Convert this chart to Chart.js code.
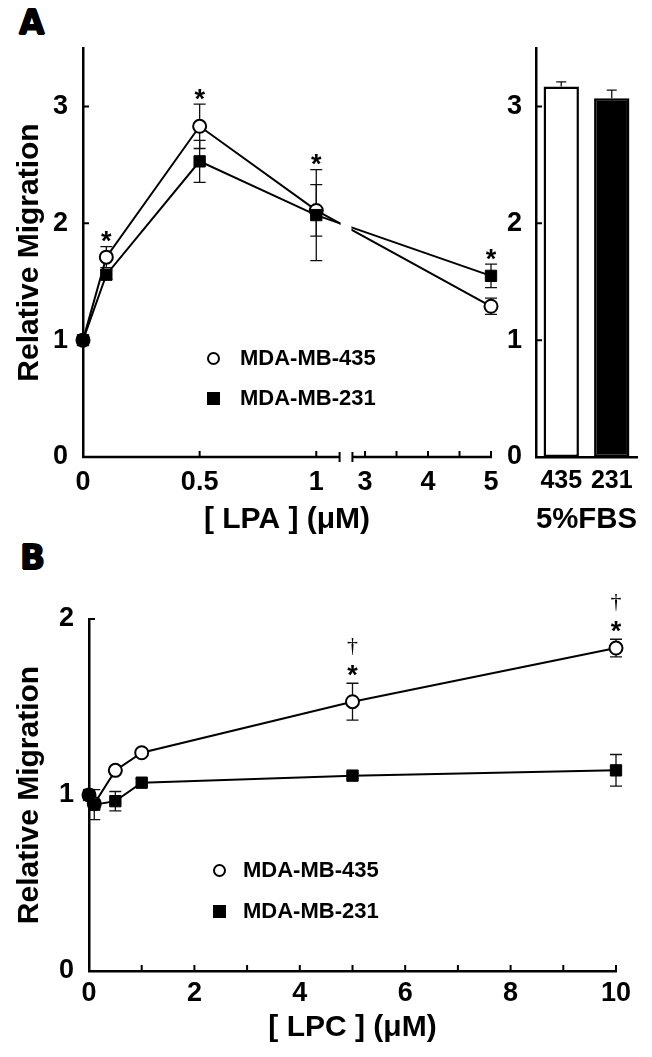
<!DOCTYPE html>
<html>
<head>
<meta charset="utf-8">
<script src="https://cdn.jsdelivr.net/npm/chart.js@4"></script>
<style>
  body { margin: 0; background: #fff; width: 652px; height: 1057px; position: relative; overflow: hidden; font-family: "Liberation Sans", Arial, sans-serif; }
  canvas { position: absolute; }
  .panel { position: absolute; font-family: "DejaVu Sans", sans-serif; font-weight: bold; font-size: 33px; line-height: 1; text-shadow: 0.7px 0 #000, -0.7px 0 #000, 0 0.7px #000, 0 -0.7px #000; }
  .leg { position: absolute; display: flex; align-items: center; transform: translateY(-50%); font-weight: bold; font-size: 22px; line-height: 1; white-space: nowrap; }
  .leg .sym { width: 13px; height: 13px; box-sizing: border-box; }
  .circ { border: 2px solid #000; border-radius: 50%; background: #fff; }
  .sq { background: #000; }
</style>
</head>
<body>
<div class="panel" style="left:19px; top:6px;">A</div>
<div class="panel" style="left:20px; top:541px;">B</div>

<canvas id="lpa" width="511" height="540" style="left:0; top:0;"></canvas>
<canvas id="fbs" width="162" height="540" style="left:490px; top:0;"></canvas>
<canvas id="lpc" width="652" height="517" style="left:0; top:540px;"></canvas>

<div class="leg" style="left:207px; top:358px;"><span class="sym circ" style="margin-right:20px"></span>MDA-MB-435</div>
<div class="leg" style="left:207px; top:398px;"><span class="sym sq" style="margin-right:20px"></span>MDA-MB-231</div>
<div class="leg" style="left:213px; top:870px;"><span class="sym circ" style="margin-right:17px"></span>MDA-MB-435</div>
<div class="leg" style="left:213px; top:911px;"><span class="sym sq" style="margin-right:17px"></span>MDA-MB-231</div>

<script>
// panel A: LPA dose response (uM)
const lpaConc = [0, 0.1, 0.5, 1, 5];
const lpa435 = [1.0, 1.71, 2.83, 2.11, 1.29];
const lpa435Err = [0, 0.09, 0.19, 0.22, 0.07];
const lpa231 = [1.0, 1.56, 2.53, 2.07, 1.55];
const lpa231Err = [0, 0.04, 0.18, 0.39, 0.10];
const lpaStarIdx = [1, 2, 3, 4];
const lpaTickVals = [0, 0.5, 1, 3, 4, 5];
const lpaTickLabels = ['0', '0.5', '1', '3', '4', '5'];
const lpaMinorTicks = [3.5, 4.5];

// panel A right: 5% FBS
const fbsLabels = ['435', '231'];
const fbsValues = [3.17, 3.07];
const fbsErr = [0.04, 0.07];

// panel B: LPC dose response (uM)
const lpcConc = [0, 0.1, 0.5, 1, 5, 10];
const lpc435 = [1.0, 0.95, 1.14, 1.24, 1.53, 1.835];
const lpc435Err = [0, 0.02, 0.02, 0.02, 0.105, 0.05];
const lpc231 = [1.0, 0.945, 0.965, 1.07, 1.11, 1.14];
const lpc231Err = [0.02, 0.085, 0.055, 0.02, 0.015, 0.09];
const lpcStarIdx = [4, 5];

// broken x axis for panel A: 0..1.1 linear, then 2.8..5 compressed
const BREAK_LO = 1.1, BREAK_HI = 2.8, SEG2_START = 1.155, SEG2_SCALE = 0.27;
const pos = (x) => (x <= BREAK_LO ? x : SEG2_START + (x - BREAK_HI) * SEG2_SCALE);

const FONT = '"Liberation Sans", Arial, sans-serif';
Chart.defaults.font.family = FONT;
Chart.defaults.color = '#000';

const errorBars = {
  id: 'errorBars',
  beforeDatasetsDraw(chart, args, opts) {
    const { ctx, scales: { x, y } } = chart;
    ctx.save();
    ctx.strokeStyle = '#111';
    ctx.lineWidth = 1.3;
    chart.data.datasets.forEach((ds) => {
      if (!ds.errors) return;
      ds.data.forEach((pt, i) => {
        const e = ds.errors[i];
        if (!e) return;
        const xv = typeof pt === 'object' ? pt.x : i;
        const yv = typeof pt === 'object' ? pt.y : pt;
        const px = x.getPixelForValue(xv);
        const yTop = y.getPixelForValue(yv + e);
        const yBot = ds.errorUpOnly ? y.getPixelForValue(yv) : y.getPixelForValue(yv - e);
        const cap = opts.cap || 6;
        ctx.beginPath();
        ctx.moveTo(px, yTop); ctx.lineTo(px, yBot);
        ctx.moveTo(px - cap, yTop); ctx.lineTo(px + cap, yTop);
        if (!ds.errorUpOnly) { ctx.moveTo(px - cap, yBot); ctx.lineTo(px + cap, yBot); }
        ctx.stroke();
      });
    });
    ctx.restore();
  },
};

const sigMarks = {
  id: 'sigMarks',
  afterDatasetsDraw(chart, args, opts) {
    const { ctx, scales: { x, y } } = chart;
    ctx.save();
    ctx.fillStyle = '#000';
    ctx.textAlign = 'center';
    ctx.textBaseline = 'alphabetic';
    opts.idx.forEach((i) => {
      let top = -Infinity;
      chart.data.datasets.forEach((ds) => {
        top = Math.max(top, ds.data[i].y + (ds.errors ? ds.errors[i] : 0));
      });
      const px = x.getPixelForValue(chart.data.datasets[0].data[i].x);
      const py = y.getPixelForValue(top);
      ctx.font = 'bold 27px ' + FONT;
      ctx.fillText('*', px, py - opts.starGap + 0.58 * 27);
      if (opts.dagger) {
        ctx.font = '22px "Liberation Serif", serif';
        ctx.fillText('\u2020', px, py - opts.daggerGap + 0.27 * 22);
      }
    });
    ctx.restore();
  },
};

const innerTicks = {
  id: 'innerTicks',
  afterDraw(chart, args, opts) {
    const { ctx, chartArea: a, scales } = chart;
    const len = opts.len || 6;
    ctx.save();
    ctx.strokeStyle = '#000';
    ctx.lineWidth = 2;
    ctx.beginPath();
    if (scales.x.type !== 'category') {
      const xv = scales.x.ticks.map((t) => t.value).concat(opts.extraX || []);
      xv.forEach((v) => {
        const px = scales.x.getPixelForValue(v);
        if (Math.abs(px - a.left) < 2) return;
        ctx.moveTo(px, a.bottom); ctx.lineTo(px, a.bottom - len);
      });
    }
    scales.y.ticks.forEach((t) => {
      const py = scales.y.getPixelForValue(t.value);
      if (Math.abs(py - a.bottom) < 2) return;
      ctx.moveTo(a.left, py); ctx.lineTo(a.left + len, py);
    });
    ctx.stroke();
    ctx.restore();
  },
};

const axisBreak = {
  id: 'axisBreak',
  afterDatasetsDraw(chart) {
    const { ctx, chartArea: a, scales: { x } } = chart;
    const x1 = x.getPixelForValue(pos(BREAK_LO));
    const x2 = x.getPixelForValue(pos(BREAK_HI));
    ctx.save();
    ctx.fillStyle = '#fff';
    ctx.fillRect(x1 + 1, a.top, x2 - x1 - 2, a.bottom - a.top + 8);
    ctx.strokeStyle = '#000';
    ctx.lineWidth = 2.5;
    ctx.beginPath();
    ctx.moveTo(a.left - 1, a.bottom); ctx.lineTo(x1, a.bottom);
    ctx.moveTo(x2, a.bottom); ctx.lineTo(a.right + 1, a.bottom);
    ctx.stroke();
    ctx.lineWidth = 2;
    ctx.beginPath();
    ctx.moveTo(x1, a.bottom - 5); ctx.lineTo(x1, a.bottom + 5);
    ctx.moveTo(x2, a.bottom - 5); ctx.lineTo(x2, a.bottom + 5);
    ctx.stroke();
    ctx.restore();
  },
};

const tickFont = { size: 27, weight: 'bold' };
const titleFont = { size: 30, weight: 'bold' };

function lineSet(label, xs, ys, errs, style, order) {
  return {
    label,
    data: xs.map((c, i) => ({ x: c, y: ys[i] })),
    errors: errs,
    borderColor: '#000',
    borderWidth: 2,
    pointStyle: style,
    pointRadius: style === 'circle' ? 6.5 : 8,
    pointBorderWidth: style === 'circle' ? 2 : 1,
    pointBackgroundColor: style === 'circle' ? '#fff' : '#000',
    pointBorderColor: '#000',
    tension: 0,
    clip: false,
    order,
  };
}

new Chart(document.getElementById('lpa'), {
  type: 'line',
  data: {
    datasets: [
      lineSet('MDA-MB-435', lpaConc.map(pos), lpa435, lpa435Err, 'circle', 1),
      lineSet('MDA-MB-231', lpaConc.map(pos), lpa231, lpa231Err, 'rect', 0),
    ],
  },
  options: {
    responsive: false,
    animation: false,
    devicePixelRatio: 1,
    layout: { padding: { top: 48, right: 20, left: 0, bottom: 0 } },
    plugins: {
      legend: { display: false },
      tooltip: { enabled: false },
      errorBars: { cap: 6 },
      sigMarks: { idx: lpaStarIdx, starGap: 12 },
      innerTicks: { extraX: lpaMinorTicks.map(pos) },
    },
    scales: {
      x: {
        type: 'linear',
        min: 0,
        max: pos(5),
        afterBuildTicks: (s) => { s.ticks = lpaTickVals.map((v) => ({ value: pos(v) })); },
        afterFit: (s) => { s.height = 83; },
        grid: { display: false, drawTicks: false },
        border: { display: false },
        ticks: { autoSkip: false, maxRotation: 0, padding: 9, font: tickFont, callback: (v, i) => lpaTickLabels[i] },
        title: { display: true, text: '[ LPA ] (\u03bcM)', font: titleFont, padding: { top: 0, bottom: 2 } },
      },
      y: {
        min: 0,
        max: 3.5,
        afterBuildTicks: (s) => { s.ticks = s.ticks.filter((t) => Number.isInteger(t.value)); },
        afterFit: (s) => { s.width = 83; },
        grid: { display: false, drawTicks: false },
        border: { display: true, color: '#000', width: 2.5 },
        ticks: { stepSize: 1, padding: 15, font: tickFont },
        title: { display: true, text: 'Relative Migration', font: titleFont, padding: { top: 12, bottom: 0 } },
      },
    },
  },
  plugins: [errorBars, axisBreak, sigMarks, innerTicks],
});

new Chart(document.getElementById('fbs'), {
  type: 'bar',
  data: {
    labels: fbsLabels,
    datasets: [{
      data: fbsValues,
      errors: fbsErr,
      errorUpOnly: true,
      backgroundColor: ['#fff', '#000'],
      borderColor: '#000',
      borderWidth: 2.5,
      borderSkipped: false,
      barPercentage: 0.7,
      categoryPercentage: 1,
    }],
  },
  options: {
    responsive: false,
    animation: false,
    devicePixelRatio: 1,
    layout: { padding: { top: 48, right: 15, left: 0, bottom: 0 } },
    plugins: {
      legend: { display: false },
      tooltip: { enabled: false },
      errorBars: { cap: 5 },
    },
    scales: {
      x: {
        afterFit: (s) => { s.height = 83; },
        grid: { display: false, drawTicks: false },
        border: { display: true, color: '#000', width: 2.5 },
        ticks: { autoSkip: false, minRotation: 0, maxRotation: 0, padding: 9, font: { size: 25, weight: 'bold' } },
        title: { display: true, text: '5%FBS', font: titleFont, padding: { top: 0, bottom: 2 } },
      },
      y: {
        min: 0,
        max: 3.5,
        afterBuildTicks: (s) => { s.ticks = s.ticks.filter((t) => Number.isInteger(t.value)); },
        afterFit: (s) => { s.width = 46; },
        grid: { display: false, drawTicks: false },
        border: { display: true, color: '#000', width: 2.5 },
        ticks: { stepSize: 1, padding: 14, font: tickFont },
      },
    },
  },
  plugins: [errorBars, innerTicks],
});

new Chart(document.getElementById('lpc'), {
  type: 'line',
  data: {
    datasets: [
      lineSet('MDA-MB-435', lpcConc, lpc435, lpc435Err, 'circle', 1),
      lineSet('MDA-MB-231', lpcConc, lpc231, lpc231Err, 'rect', 0),
    ],
  },
  options: {
    responsive: false,
    animation: false,
    devicePixelRatio: 1,
    layout: { padding: { top: 79, right: 36, left: 0, bottom: 0 } },
    plugins: {
      legend: { display: false },
      tooltip: { enabled: false },
      errorBars: { cap: 6 },
      sigMarks: { idx: lpcStarIdx, starGap: 15, dagger: true, daggerGap: 37 },
      innerTicks: {},
    },
    scales: {
      x: {
        type: 'linear',
        min: 0,
        max: 10,
        afterFit: (s) => { s.height = 86; },
        grid: { display: false, drawTicks: false },
        border: { display: true, color: '#000', width: 2.5 },
        ticks: { stepSize: 1, autoSkip: false, maxRotation: 0, padding: 6, font: tickFont, callback: (v) => (v % 2 === 0 ? v : '') },
        title: { display: true, text: '[ LPC ] (\u03bcM)', font: titleFont, padding: { top: 0, bottom: 11 } },
      },
      y: {
        min: 0,
        max: 2,
        afterFit: (s) => { s.width = 89; },
        grid: { display: false, drawTicks: false },
        border: { display: true, color: '#000', width: 2.5 },
        ticks: { stepSize: 1, padding: 15, font: tickFont },
        title: { display: true, text: 'Relative Migration', font: titleFont, padding: { top: 12, bottom: 0 } },
      },
    },
  },
  plugins: [errorBars, sigMarks, innerTicks],
});
</script>
</body>
</html>
